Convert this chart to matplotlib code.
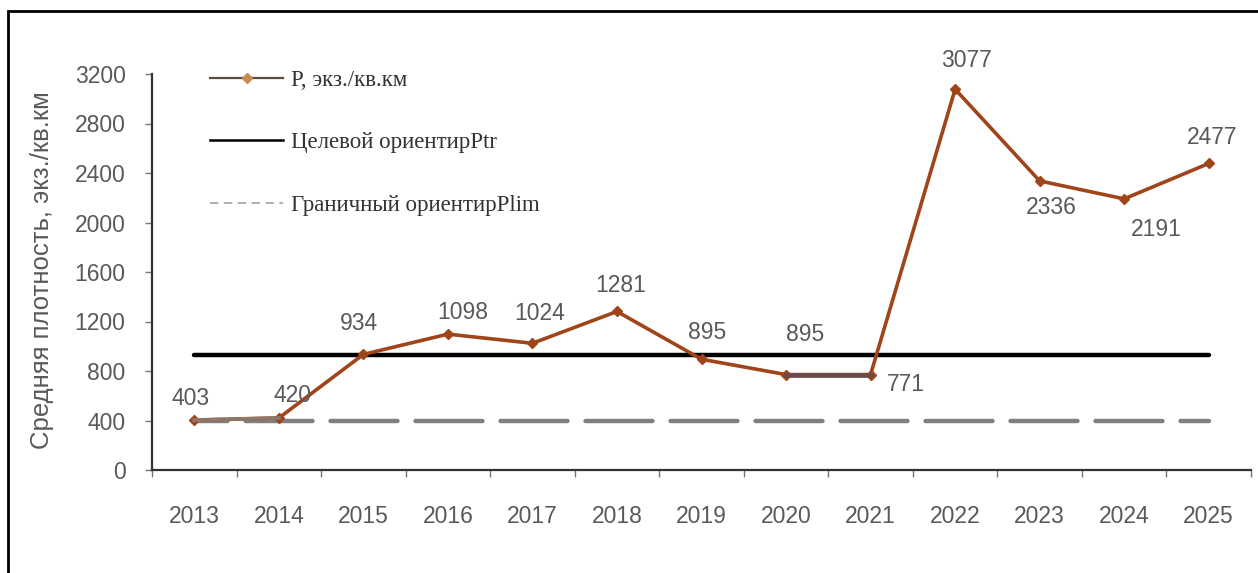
import numpy as np
import matplotlib
matplotlib.use("Agg")
import matplotlib.pyplot as plt
from matplotlib.lines import Line2D
from matplotlib.patches import Rectangle

# data
years = ["2013", "2014", "2015", "2016", "2017", "2018", "2019",
         "2020", "2021", "2022", "2023", "2024", "2025"]
density = [403, 420, 934, 1098, 1024, 1281, 895, 771, 771, 3077, 2336, 2191, 2477]
point_labels = ["403", "420", "934", "1098", "1024", "1281", "895",
                "895", "771", "3077", "2336", "2191", "2477"]
target_ptr = 930
limit_plim = 400
y_ticks = [0, 400, 800, 1200, 1600, 2000, 2400, 2800, 3200]

# label offsets in pixels (dx, dy) from each point
label_offsets = [(-4, 22), (14, 23), (-4, 31), (15, 22), (7, 30), (4, 26), (6, 27),
                 (19, 40), (35, -10), (11, 29), (12, -27), (32, -31), (3, 26)]

brown = "#a0441a"
grey_txt = "#595959"
num_size = 16.5
plt.rcParams["lines.scale_dashes"] = False

W, H = 1258, 573
fig = plt.figure(figsize=(W / 100, H / 100), dpi=100)
ax = fig.add_axes([152 / W, 1 - 470 / H, (1251 - 152) / W, (470 - 74) / H])

x = np.arange(len(years))

# reference lines
ax.plot([x[0], x[-1]], [target_ptr, target_ptr], color="black", lw=3.2,
        solid_capstyle="round", zorder=2)
lim, = ax.plot([x[0], x[-1]], [limit_plim, limit_plim], color="#808080", lw=3.2,
               zorder=2)
lim.set_linestyle((24.1, (48.2, 13.0)))
lim.set_dash_capstyle("round")

# series
ax.plot(x, density, color=brown, lw=2.6, marker="D", ms=5.5,
        markerfacecolor=brown, markeredgecolor=brown, zorder=3)
ax.plot(x[0:2], density[0:2], color="#8e7766", lw=2.8, zorder=3.5)
ax.plot(x[7:9], density[7:9], color="#6b4a4a", lw=3.4, zorder=3.5)

for xi, yi, lab, (dx, dy) in zip(x, density, point_labels, label_offsets):
    ax.annotate(lab, (xi, yi), xytext=(dx, dy), textcoords="offset pixels",
                ha="center", va="center", fontsize=num_size, color=grey_txt,
                family="Liberation Sans", zorder=5)

ax.set_xlim(-0.5, len(years) - 0.5)
ax.set_ylim(0, 3200)
ax.set_yticks(y_ticks)
ax.set_yticklabels([str(v) for v in y_ticks])
ax.set_xticks(x)
ax.set_xticklabels(years)
ax.set_xticks(np.arange(-0.5, len(years), 1.0), minor=True)

for s in ["top", "right"]:
    ax.spines[s].set_visible(False)
for s in ["left", "bottom"]:
    ax.spines[s].set_color("#333333")
    ax.spines[s].set_linewidth(1.6)

ax.tick_params(axis="x", which="major", length=0, pad=25, labelsize=num_size,
               labelcolor=grey_txt)
ax.tick_params(axis="x", which="minor", length=5, width=1, color="#777777",
               direction="out")
ax.tick_params(axis="y", which="major", length=5, width=1, color="#777777",
               pad=14, labelsize=num_size, labelcolor=grey_txt)
for t in ax.get_xticklabels() + ax.get_yticklabels():
    t.set_family("Liberation Sans")

fig.text(42 / W, 1 - 270 / H, "Средняя плотность, экз./кв.км", rotation=90,
         ha="center", va="center", fontsize=18.5, color=grey_txt,
         family="Liberation Sans")

# legend
handles = [
    Line2D([], [], color="#5b4b45", lw=1.6, marker="D", ms=5,
           markerfacecolor="#c98a50", markeredgecolor="#c98a50"),
    Line2D([], [], color="black", lw=1.8),
    Line2D([], [], color="#a8a8a8", lw=1.3, dashes=(6, 4)),
]
labels = ["Р, экз./кв.км", "Целевой ориентирPtr", "Граничный ориентирPlim"]
ax.legend(handles, labels, loc="upper left",
          bbox_to_anchor=(210 / W, 1 - 69.5 / H), bbox_transform=fig.transFigure,
          frameon=False, borderpad=0, borderaxespad=0,
          handlelength=3.19, handletextpad=0.35, labelspacing=1.82,
          prop={"family": "Liberation Serif", "size": 16.5}, labelcolor="#333333")

# outer frame (cut at right and bottom)
fig.patches.append(Rectangle((8 / W, -0.2), 1.2, 1 - 11 / H + 0.2,
                             transform=fig.transFigure, fill=False,
                             edgecolor="black", lw=2, clip_on=False))

fig.savefig("out.png", dpi=100, facecolor="white")
